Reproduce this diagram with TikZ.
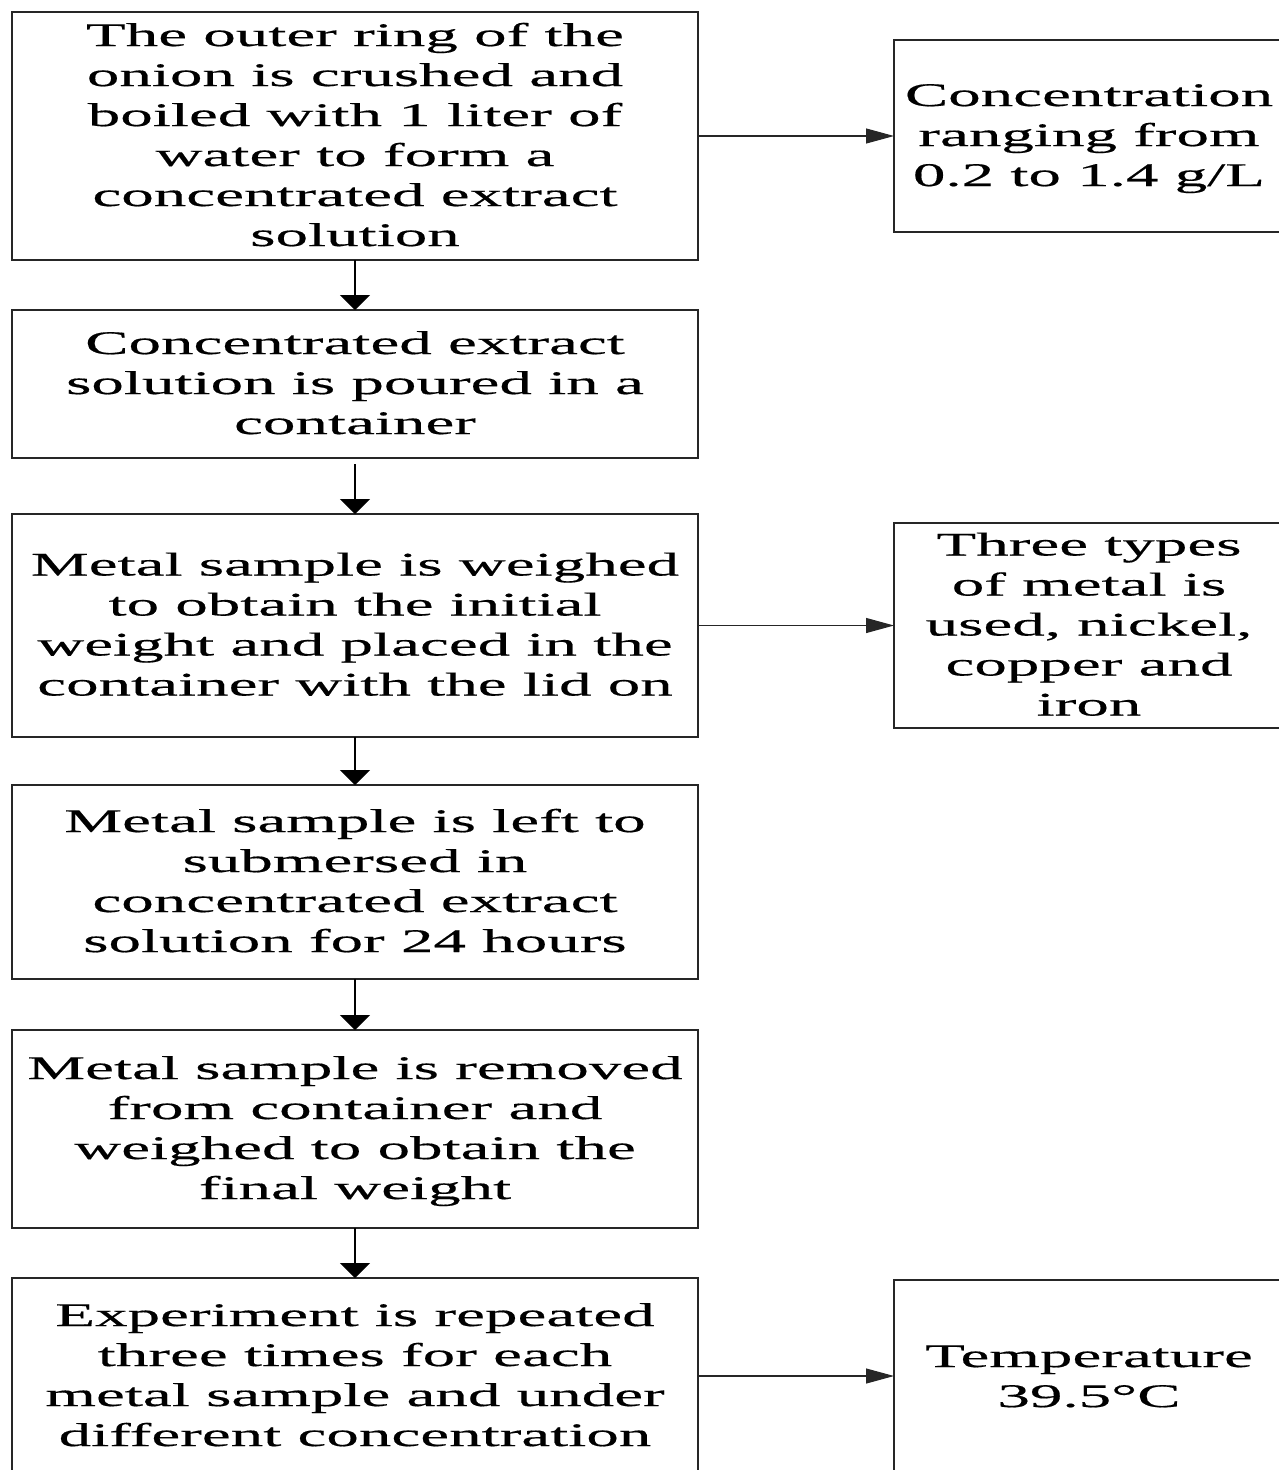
\documentclass[tikz,border=0pt]{standalone}
\usepackage{fontspec}
\usetikzlibrary{arrows.meta}
\newfontfamily\wfont[FakeStretch=1.97,FakeBold=0.4]{Liberation Serif}
\newcommand\boxtext[1]{\raisebox{-2pt}[\height][\depth]{\begin{tabular}{@{}c@{}}#1\end{tabular}}}
\tikzset{
  x=1pt, y=-1pt,
  stepbox/.style={draw=black!85, line width=1.1pt, inner sep=0pt, outer sep=0pt,
    minimum width=686pt, align=center,
    font=\wfont\fontsize{33}{40}\selectfont},
  sidebox/.style={stepbox, minimum width=390pt},
  varrow/.style={draw=black, line width=1.1pt, -{Triangle[length=15pt,width=30pt]}},
  harrow/.style={draw=black!85, line width=1.1pt, -{Triangle[length=28pt,width=15pt]}},
}
\begin{document}
\begin{tikzpicture}
\fill[white] (0,0) rectangle (1278,1470);
\useasboundingbox (0,0) rectangle (1278,1470);

\node[stepbox, minimum height=248pt] (b1) at (355,136)
  {\boxtext{The outer ring of the\\ onion is crushed and\\ boiled with 1 liter of\\ water to form a\\ concentrated extract\\ solution}};
\node[stepbox, minimum height=148pt] (b2) at (355,384)
  {\boxtext{Concentrated extract\\ solution is poured in a\\ container}};
\node[stepbox, minimum height=223pt] (b3) at (355,625.5)
  {\boxtext{Metal sample is weighed\\ to obtain the initial\\ weight and placed in the\\ container with the lid on}};
\node[stepbox, minimum height=194pt] (b4) at (355,882)
  {\boxtext{Metal sample is left to\\ submersed in\\ concentrated extract\\ solution for 24 hours}};
\node[stepbox, minimum height=198pt] (b5) at (355,1129)
  {\boxtext{Metal sample is removed\\ from container and\\ weighed to obtain the\\ final weight}};
\node[stepbox, minimum height=196pt] (b6) at (355,1376)
  {\boxtext{Experiment is repeated\\ three times for each\\ metal sample and under\\ different concentration}};

\node[sidebox, minimum height=192pt] (r1) at (1089,136)
  {\boxtext{Concentration\\ ranging from\\ 0.2 to 1.4 g/L}};
\node[sidebox, minimum height=205pt] (r2) at (1089,625.5)
  {\boxtext{Three types\\ of metal is\\ used, nickel,\\ copper and\\ iron}};
\node[sidebox, minimum height=194pt] (r3) at (1089,1377)
  {\boxtext{Temperature\\ 39.5°C}};

\draw[varrow] (b1.south) -- (b2.north);
\draw[varrow, shorten <=6pt] (b2.south) -- (b3.north);
\draw[varrow] (b3.south) -- (b4.north);
\draw[varrow] (b4.south) -- (b5.north);
\draw[varrow] (b5.south) -- (b6.north);

\draw[harrow] (b1.east) -- (r1.west);
\draw[harrow] (b3.east) -- (r2.west);
\draw[harrow] (b6.east) -- (b6.east -| r3.west);
\end{tikzpicture}
\end{document}
